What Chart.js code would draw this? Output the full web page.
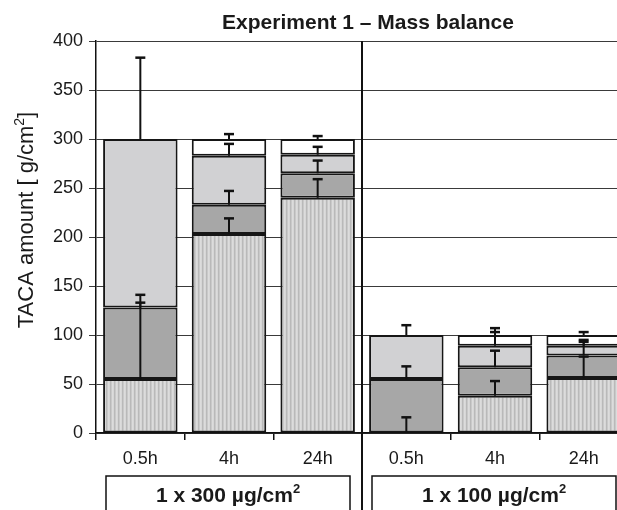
<!DOCTYPE html>
<html>
<head>
<meta charset="utf-8">
<script src="https://cdn.jsdelivr.net/npm/chart.js@4.4.0/dist/chart.umd.min.js"></script>
<style>
  html, body { margin: 0; padding: 0; background: #fff; overflow: hidden; }
  #wrap { width: 640px; height: 510px; }
</style>
</head>
<body>
<div id="wrap"><canvas id="chart" width="640" height="510"></canvas></div>
<script>
const categories = ['0.5h', '4h', '24h', '0.5h', '4h', '24h'];
const groupLabels = ['1 x 300 \u00b5g/cm', '1 x 100 \u00b5g/cm'];
const titleText = 'Experiment 1 \u2013 Mass balance';
const yLabel = 'TACA amount [ g/cm';

// stacked segments, bottom to top
const striped = [55, 203, 240, 0, 38, 56];
const dark = [73, 30, 25, 55, 29, 23];
const light = [172, 50, 19, 45, 22, 10];
const white = [0, 17, 16, 0, 11, 11];

// plus-only error bars on top of each segment
const errStriped = [78, 16, 19, 16, 15, 22];
const errDark = [13, 14, 13, 13, 17, 16];
const errLight = [83, 12, 8, 10, 14, 4];
const errWhite = [0, 5, 3, 0, 7, 3];

const yMax = 400;
const yStep = 50;

const FONT = "'Liberation Sans', Arial, Helvetica, sans-serif";

function makeStripes() {
    const c = document.createElement('canvas');
    c.width = 4;
    c.height = 4;
    const g = c.getContext('2d');
    const cols = ['#dcdcdc', '#d6d6d6', '#b9b9b9', '#c9c9c9'];
    cols.forEach((col, i) => {
        g.fillStyle = col;
        g.fillRect(i, 0, 1, 4);
    });
    return g.createPattern(c, 'repeat');
}

// text with a small raised "2" and optional tail, centred on x
function drawSup(ctx, x, y, main, tail, size, weight) {
    const supSize = Math.round(size * 0.62);
    ctx.font = weight + ' ' + size + 'px ' + FONT;
    const w1 = ctx.measureText(main).width;
    const w3 = tail ? ctx.measureText(tail).width : 0;
    ctx.font = weight + ' ' + supSize + 'px ' + FONT;
    const w2 = ctx.measureText('2').width;
    let sx = x - (w1 + w2 + w3) / 2;
    ctx.textAlign = 'left';
    ctx.textBaseline = 'alphabetic';
    ctx.font = weight + ' ' + size + 'px ' + FONT;
    ctx.fillText(main, sx, y);
    ctx.font = weight + ' ' + supSize + 'px ' + FONT;
    ctx.fillText('2', sx + w1, y - size * 0.42);
    if (tail) {
        ctx.font = weight + ' ' + size + 'px ' + FONT;
        ctx.fillText(tail, sx + w1 + w2, y);
    }
}

const errorBars = {
    id: 'errorBars',
    afterDatasetsDraw(chart) {
        const ctx = chart.ctx;
        const xs = chart.scales.x, ys = chart.scales.y;
        const segs = [striped, dark, light, white];
        const errs = [errStriped, errDark, errLight, errWhite];
        ctx.save();
        ctx.strokeStyle = '#111';
        for (let j = 0; j < categories.length; j++) {
            let base = 0;
            const x = xs.getPixelForValue(j);
            for (let i = 0; i < segs.length; i++) {
                base += segs[i][j];
                const e = errs[i][j];
                if (!e) continue;
                const y0 = ys.getPixelForValue(base);
                const y1 = ys.getPixelForValue(base + e);
                ctx.lineWidth = 2;
                ctx.beginPath();
                ctx.moveTo(x, y0);
                ctx.lineTo(x, y1);
                ctx.stroke();
                ctx.lineWidth = 2.5;
                ctx.beginPath();
                ctx.moveTo(x - 5, y1);
                ctx.lineTo(x + 5, y1);
                ctx.stroke();
            }
        }
        ctx.restore();
    }
};

const decorations = {
    id: 'decorations',
    afterDraw(chart) {
        const ctx = chart.ctx;
        const xs = chart.scales.x;
        const area = chart.chartArea;
        const catW = xs.getPixelForValue(1) - xs.getPixelForValue(0);
        ctx.save();
        ctx.fillStyle = '#1a1a1a';

        // title
        ctx.font = 'bold 21px ' + FONT;
        ctx.textAlign = 'center';
        ctx.textBaseline = 'alphabetic';
        ctx.fillText(titleText, 368, 28.5);

        // y axis label
        ctx.save();
        ctx.translate(33, 220);
        ctx.rotate(-Math.PI / 2);
        drawSup(ctx, 0, 0, yLabel, ']', 22, 'normal');
        ctx.restore();

        // divider between the two dose groups
        const divX = (xs.getPixelForValue(2) + xs.getPixelForValue(3)) / 2;
        ctx.strokeStyle = '#111';
        ctx.lineWidth = 2;
        ctx.beginPath();
        ctx.moveTo(divX, area.top);
        ctx.lineTo(divX, chart.height);
        ctx.stroke();

        // group boxes
        ctx.lineWidth = 1.5;
        groupLabels.forEach((lab, g) => {
            const start = xs.getPixelForValue(g * 3) - catW / 2;
            const bx = start + 10, by = 476, bw = 244;
            ctx.strokeRect(bx, by, bw, 60);
            drawSup(ctx, bx + bw / 2, 502, lab, '', 21, 'bold');
        });
        ctx.restore();
    }
};

const segStyle = {
    borderColor: '#161616',
    borderWidth: 2,
    borderSkipped: false,
    barPercentage: 0.84,
    categoryPercentage: 1
};
const nz = arr => arr.map(v => (v === 0 ? null : v));

new Chart(document.getElementById('chart'), {
    type: 'bar',
    data: {
        labels: categories,
        datasets: [
            Object.assign({ label: 'striped', data: nz(striped), backgroundColor: makeStripes() }, segStyle),
            Object.assign({ label: 'dark', data: nz(dark), backgroundColor: '#a7a7a7' }, segStyle),
            Object.assign({ label: 'light', data: nz(light), backgroundColor: '#d1d1d3' }, segStyle),
            Object.assign({ label: 'white', data: nz(white), backgroundColor: '#ffffff' }, segStyle)
        ]
    },
    options: {
        responsive: false,
        devicePixelRatio: 1,
        animation: false,
        layout: { padding: { left: 0, right: 12, top: 41, bottom: 0 } },
        plugins: {
            legend: { display: false },
            tooltip: { enabled: false },
            title: { display: false }
        },
        scales: {
            x: {
                stacked: true,
                offset: true,
                grid: { drawOnChartArea: false, drawTicks: true, tickLength: 7, color: '#111', lineWidth: 1.5, offset: true },
                border: { display: true, color: '#111', width: 1.5 },
                ticks: { color: '#1a1a1a', font: { family: FONT, size: 18 }, padding: 8, maxRotation: 0 },
                afterFit(scale) { scale.height = 77; }
            },
            y: {
                stacked: true,
                min: 0,
                max: yMax,
                ticks: { stepSize: yStep, color: '#1a1a1a', font: { family: FONT, size: 18 }, padding: 6 },
                grid: { color: '#3a3a3a', lineWidth: 1, tickLength: 7 },
                border: { display: true, color: '#111', width: 1.5 },
                afterFit(scale) { scale.width = 96; }
            }
        }
    },
    plugins: [errorBars, decorations]
});
</script>
</body>
</html>
